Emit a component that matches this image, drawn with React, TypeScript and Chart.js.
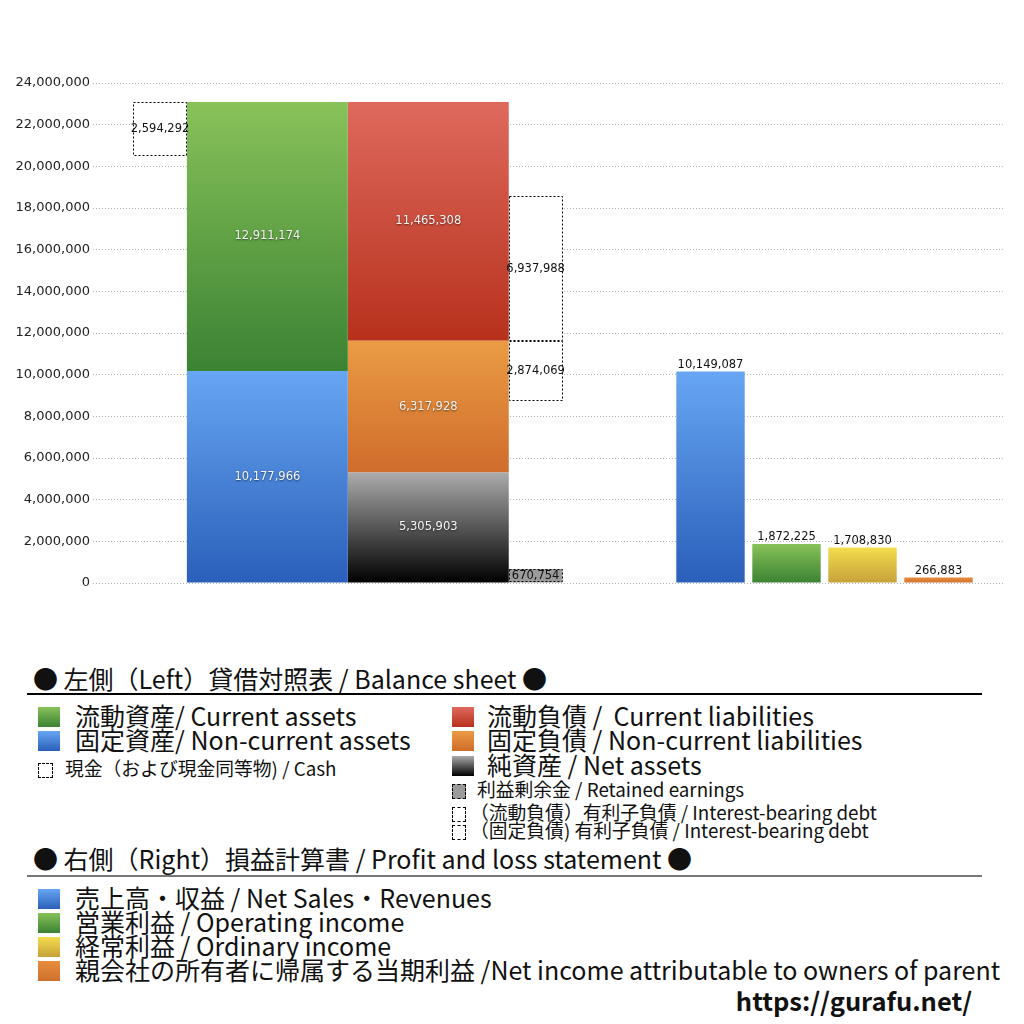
import { useEffect, useRef } from "react"
import { Chart, registerables } from "chart.js"

Chart.register(...registerables)

// 左側: 貸借対照表 / Balance sheet
const bsColumns = ["現金", "資産", "負債・純資産", "有利子負債"]
const assetItems = ["固定資産", "流動資産"] // bottom -> top
const assetValues = [10177966, 12911174]
const claimItems = ["純資産", "固定負債", "流動負債"] // bottom -> top
const claimValues = [5305903, 6317928, 11465308]
const cashValues = [2594292]
const retainedEarnings = [670754]
const debtItems = ["（流動負債）有利子負債", "（固定負債）有利子負債"]
const debtValues = [6937988, 2874069]

// 右側: 損益計算書 / Profit and loss statement
const plItems = ["売上高・収益", "営業利益", "経常利益", "当期利益"]
const plValues = [10149087, 1872225, 1708830, 266883]

// value axis
const yMax = 24000000
const yStep = 2000000

// column slots on the two hidden category axes
const BS_SLOTS = 34
const bsSlots = [2, 6, 12, 16]
const bsSpans = [2, 6, 6, 2]
const PL_SLOTS = 48
const plSlots = [32, 36, 40, 44]
const PL_SPAN = 3.6

// gradients, top -> bottom
const green = ["#88c259", "#3b8233"]
const blue = ["#67a6f2", "#2a5fba"]
const red = ["#de695d", "#b7311c"]
const orange = ["#ea9b44", "#cf6c2b"]
const black = ["#ababab", "#000000"]
const yellow = ["#f4dd4d", "#c5a13a"]
const amber = ["#e88d3d", "#cf712d"]

const assetColors = [blue, green]
const claimColors = [black, orange, red]
const plColors = [blue, green, yellow, amber]

const FONT = "'Noto Sans CJK JP', 'Noto Sans', sans-serif"
const NUM_FONT = "'DejaVu Sans', sans-serif"

const sum = (a: number[]) => a.reduce((s, v) => s + v, 0)
const ranges = (vals: number[]) => vals.map((v, i) => [sum(vals.slice(0, i)), sum(vals.slice(0, i)) + v])
const fmt = (v: number) => v.toLocaleString("en-US")

const slotLabels = (n: number, names: string[], slots: number[]) => {
  const labels = Array(n).fill("")
  names.forEach((name, i) => (labels[slots[i]] = name))
  return labels
}

const span = (raw: any): number[] => (Array.isArray(raw.y) ? raw.y : [0, raw.y])

function vGradient(pick: (c: any) => string[]) {
  return (c: any) => {
    const stops = pick(c)
    const chart = c.chart
    const y = chart.scales.y
    if (!chart.chartArea || !y || !c.raw) return stops[1]
    const [lo, hi] = span(c.raw)
    const g = chart.ctx.createLinearGradient(0, y.getPixelForValue(hi), 0, y.getPixelForValue(lo))
    g.addColorStop(0, stops[0])
    g.addColorStop(1, stops[1])
    return g
  }
}

// value labels + dotted outlines for the "box" columns
const barLabels = {
  id: "barLabels",
  afterDatasetsDraw(chart: any) {
    const { ctx } = chart
    chart.data.datasets.forEach((ds: any, i: number) => {
      const meta = chart.getDatasetMeta(i)
      meta.data.forEach((bar: any, j: number) => {
        const { x, y, base, width } = bar.getProps(["x", "y", "base", "width"], true)
        const top = Math.min(y, base)
        const bottom = Math.max(y, base)
        const [lo, hi] = span(ds.data[j])
        ctx.save()
        if (ds.dotted) {
          ctx.strokeStyle = "#000"
          ctx.lineWidth = 1
          ctx.setLineDash([2, 2])
          ctx.strokeRect(Math.round(x - width / 2) + 0.5, Math.round(top) + 0.5, Math.round(width) - 1, Math.round(bottom - top) - 1)
        }
        ctx.setLineDash([])
        ctx.font = `11.5px ${NUM_FONT}`
        ctx.textAlign = "center"
        if (ds.labelMode === "inside") {
          ctx.fillStyle = "#f4f4f4"
          ctx.shadowColor = "rgba(0,0,0,0.55)"
          ctx.shadowBlur = 2
          ctx.shadowOffsetY = 1
          ctx.textBaseline = "middle"
          ctx.fillText(fmt(hi - lo), x, (top + bottom) / 2)
        } else if (ds.labelMode === "box") {
          ctx.fillStyle = "#111"
          ctx.textBaseline = "middle"
          ctx.fillText(fmt(hi - lo), x, (top + bottom) / 2)
        } else {
          ctx.fillStyle = "#111"
          ctx.textBaseline = "bottom"
          ctx.fillText(fmt(hi - lo), x, top - 1)
        }
        ctx.restore()
      })
    })
  },
}

const barBase = { categoryPercentage: 1, grouped: false, borderWidth: 0, yAxisID: "y" }

function buildDatasets() {
  const assetsTotal = sum(assetValues)
  const liabTop = claimValues[0] + claimValues[1]
  const assetRanges = ranges(assetValues)
  const claimRanges = ranges(claimValues)
  return [
    {
      ...barBase,
      label: bsColumns[0],
      xAxisID: "xBS",
      barPercentage: bsSpans[0],
      data: [{ x: bsColumns[0], y: [assetsTotal - cashValues[0], assetsTotal] }],
      backgroundColor: "#ffffff",
      dotted: true,
      labelMode: "box",
    },
    ...assetItems.map((name, i) => ({
      ...barBase,
      label: name,
      xAxisID: "xBS",
      barPercentage: bsSpans[1],
      data: [{ x: bsColumns[1], y: assetRanges[i] }],
      backgroundColor: vGradient(() => assetColors[i]),
      labelMode: "inside",
    })),
    ...claimItems.map((name, i) => ({
      ...barBase,
      label: name,
      xAxisID: "xBS",
      barPercentage: bsSpans[2],
      data: [{ x: bsColumns[2], y: claimRanges[i] }],
      backgroundColor: vGradient(() => claimColors[i]),
      labelMode: "inside",
    })),
    {
      ...barBase,
      label: "利益剰余金",
      xAxisID: "xBS",
      barPercentage: bsSpans[3],
      data: [{ x: bsColumns[3], y: [0, retainedEarnings[0]] }],
      backgroundColor: "#9b9b9b",
      dotted: true,
      labelMode: "box",
    },
    {
      ...barBase,
      label: debtItems[0],
      xAxisID: "xBS",
      barPercentage: bsSpans[3],
      data: [{ x: bsColumns[3], y: [liabTop, liabTop + debtValues[0]] }],
      backgroundColor: "#ffffff",
      dotted: true,
      labelMode: "box",
    },
    {
      ...barBase,
      label: debtItems[1],
      xAxisID: "xBS",
      barPercentage: bsSpans[3],
      data: [{ x: bsColumns[3], y: [liabTop - debtValues[1], liabTop] }],
      backgroundColor: "#ffffff",
      dotted: true,
      labelMode: "box",
    },
    {
      ...barBase,
      label: "損益計算書",
      xAxisID: "xPL",
      barPercentage: PL_SPAN,
      data: plItems.map((x, i) => ({ x, y: plValues[i] })),
      backgroundColor: vGradient((c) => plColors[c.dataIndex] || blue),
      labelMode: "top",
    },
  ]
}

const css = (c: string[]) => `linear-gradient(to bottom, ${c[0]}, ${c[1]})`

// text sits a touch low in its line box with the CJK font
const TEXT_NUDGE = -2

function Label({ x, cy, size, children, right, bold }: any) {
  const lh = Math.round(size * 1.25)
  const pos: any = right !== undefined ? { right } : { left: x }
  return (
    <div
      style={{
        position: "absolute",
        ...pos,
        top: cy - lh / 2 + TEXT_NUDGE,
        fontSize: size,
        lineHeight: `${lh}px`,
        whiteSpace: "pre",
        fontWeight: bold ? 700 : 400,
      }}
    >
      {children}
    </div>
  )
}

function Swatch({ x, cy, w, h, fill, dotted }: any) {
  return (
    <div
      style={{
        position: "absolute",
        left: x,
        top: cy - h / 2,
        width: w,
        height: h,
        boxSizing: "border-box",
        background: fill,
        border: dotted ? "1px dashed #000" : "none",
      }}
    />
  )
}

const BIG = 25
const SMALL = 18.8

const bsLeftLegend = [
  { text: "流動資産/ Current assets", fill: css(green), cy: 717 },
  { text: "固定資産/ Non-current assets", fill: css(blue), cy: 741 },
]
const bsRightLegend = [
  { text: "流動負債 /  Current liabilities", fill: css(red), cy: 717 },
  { text: "固定負債 / Non-current liabilities", fill: css(orange), cy: 741 },
  { text: "純資産 / Net assets", fill: css(black), cy: 766 },
]
const bsSmallLegend = [
  { text: "利益剰余金 / Retained earnings", fill: "#9b9b9b", cy: 791, x: 477 },
  { text: "（流動負債）有利子負債 / Interest-bearing debt", fill: "#fff", cy: 814, x: 470 },
  { text: "（固定負債) 有利子負債 / Interest-bearing debt", fill: "#fff", cy: 832, x: 470 },
]
const plLegend = [
  { text: "売上高・収益 / Net Sales・Revenues", fill: css(blue), cy: 899 },
  { text: "営業利益 / Operating income", fill: css(green), cy: 923 },
  { text: "経常利益 / Ordinary income", fill: css(yellow), cy: 947 },
  { text: "親会社の所有者に帰属する当期利益 /Net income attributable to owners of parent", fill: css(amber), cy: 971 },
]

export default function App() {
  const canvasRef = useRef<HTMLCanvasElement>(null)
  const chartRef = useRef<Chart | null>(null)

  useEffect(() => {
    if (!canvasRef.current) return
    if (chartRef.current) chartRef.current.destroy()

    chartRef.current = new Chart(canvasRef.current, {
      type: "bar",
      data: { datasets: buildDatasets() as any },
      options: {
        animation: false,
        responsive: true,
        maintainAspectRatio: false,
        layout: { padding: { top: 83, right: 19, bottom: 17, left: 0 } },
        plugins: { legend: { display: false }, tooltip: { enabled: false } },
        scales: {
          xBS: {
            type: "category",
            labels: slotLabels(BS_SLOTS, bsColumns, bsSlots),
            display: false,
            offset: true,
            grid: { display: false },
            ticks: { autoSkip: false },
          },
          xPL: {
            type: "category",
            labels: slotLabels(PL_SLOTS, plItems, plSlots),
            display: false,
            offset: true,
            grid: { display: false },
            ticks: { autoSkip: false },
          },
          y: {
            min: 0,
            max: yMax,
            afterFit: (scale: any) => {
              scale.width = 93
            },
            border: { display: false, dash: [1, 2] },
            grid: { color: "#b4b4b4", lineWidth: 1, drawTicks: false },
            ticks: {
              stepSize: yStep,
              padding: 3,
              color: "#222",
              font: { family: NUM_FONT, size: 13 },
              callback: (v: any) => fmt(Number(v)),
            },
          },
        },
      },
      plugins: [barLabels],
    })

    return () => {
      if (chartRef.current) {
        chartRef.current.destroy()
        chartRef.current = null
      }
    }
  }, [])

  return (
    <div
      style={{
        position: "absolute",
        left: 0,
        top: 0,
        width: 1024,
        height: 1024,
        background: "#fff",
        color: "#111",
        fontFamily: FONT,
        overflow: "hidden",
      }}
    >
      <div style={{ position: "absolute", left: 0, top: 0, width: 1024, height: 600 }}>
        <canvas ref={canvasRef} />
      </div>

      <Label x={33} cy={680} size={BIG}>● 左側（Left）貸借対照表 / Balance sheet ●</Label>
      <div style={{ position: "absolute", left: 27, top: 693, width: 955, height: 1.5, background: "#000" }} />

      {bsLeftLegend.map((it) => (
        <div key={it.text}>
          <Swatch x={38} cy={it.cy} w={22} h={20} fill={it.fill} />
          <Label x={75} cy={it.cy} size={BIG}>{it.text}</Label>
        </div>
      ))}
      <Swatch x={38} cy={770} w={15} h={15} fill="#fff" dotted />
      <Label x={65} cy={770} size={SMALL}>現金（および現金同等物) / Cash</Label>

      {bsRightLegend.map((it) => (
        <div key={it.text}>
          <Swatch x={452} cy={it.cy} w={22} h={20} fill={it.fill} />
          <Label x={487} cy={it.cy} size={BIG}>{it.text}</Label>
        </div>
      ))}
      {bsSmallLegend.map((it) => (
        <div key={it.text}>
          <Swatch x={452} cy={it.cy} w={14} h={15} fill={it.fill} dotted />
          <Label x={it.x} cy={it.cy} size={SMALL}>{it.text}</Label>
        </div>
      ))}

      <Label x={33} cy={860} size={BIG}>● 右側（Right）損益計算書 / Profit and loss statement ●</Label>
      <div style={{ position: "absolute", left: 27, top: 875, width: 955, height: 2, background: "#777" }} />

      {plLegend.map((it) => (
        <div key={it.text}>
          <Swatch x={38} cy={it.cy} w={22} h={20} fill={it.fill} />
          <Label x={75} cy={it.cy} size={BIG}>{it.text}</Label>
        </div>
      ))}

      <Label right={52} cy={1002} size={25.5} bold>https://gurafu.net/</Label>
    </div>
  )
}
